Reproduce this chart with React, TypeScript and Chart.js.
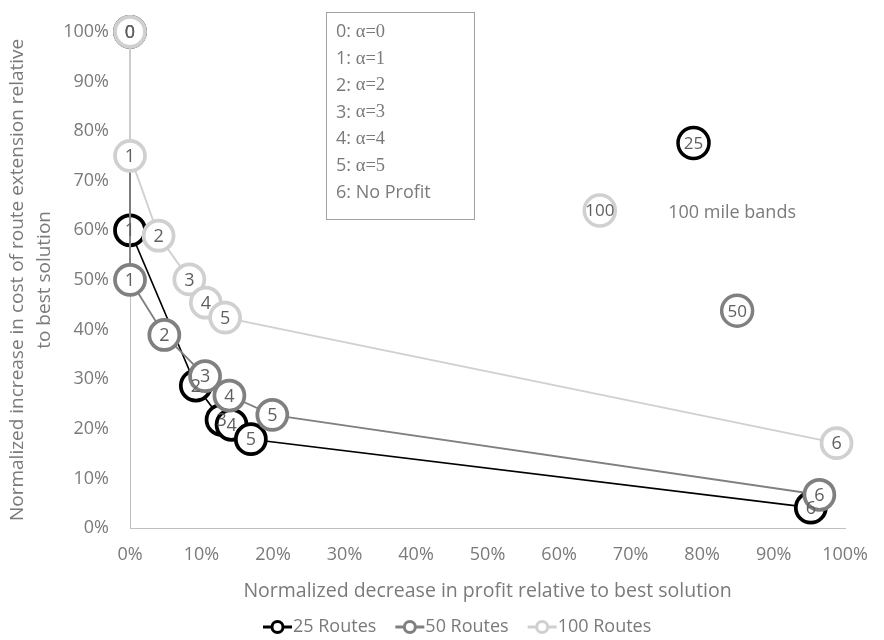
import React, { useEffect, useRef } from "react";
import { Chart, registerables } from "chart.js";

Chart.register(...registerables);

// ---- data ----
const POINT_LABELS = ["0", "1", "2", "3", "4", "5", "6"];
const SERIES_NAMES = ["25 Routes", "50 Routes", "100 Routes"];
const SERIES_COLORS = ["#000000", "#808080", "#d0d0d0"];
const R25_X = [0, 0, 0.092, 0.128, 0.142, 0.169, 0.952];
const R25_Y = [1.0, 0.6, 0.287, 0.218, 0.208, 0.179, 0.041];
const R50_X = [0, 0, 0.048, 0.105, 0.139, 0.199, 0.964];
const R50_Y = [1.0, 0.5, 0.389, 0.306, 0.267, 0.228, 0.067];
const R100_X = [0, 0, 0.04, 0.083, 0.106, 0.133, 0.988];
const R100_Y = [1.0, 0.75, 0.589, 0.501, 0.454, 0.424, 0.171];

const BAND_LABELS = ["25", "50", "100"];
const BAND_X = [0.788, 0.849, 0.657];
const BAND_Y = [0.776, 0.438, 0.64];
const BAND_NOTE = "100 mile bands";
const BAND_NOTE_X = 0.842;
const BAND_NOTE_Y = 0.635;

const KEY_PREFIX = ["0: ", "1: ", "2: ", "3: ", "4: ", "5: ", "6: "];
const KEY_TEXT = ["α=0", "α=1", "α=2", "α=3", "α=4", "α=5", "No Profit"];
const KEY_SERIF = [true, true, true, true, true, true, false];

const X_TITLE = "Normalized decrease in profit relative to best solution";
const Y_TITLE = ["Normalized increase in cost of route extension relative", "to best solution"];
const AXIS_MIN = 0;
const AXIS_MAX = 1;
const AXIS_STEP = 0.1;

const SANS = "'Open Sans', 'Noto Sans', sans-serif";
const SERIF = "'Liberation Serif', 'DejaVu Serif', serif";
const TEXT_COLOR = "#7a7a7a";
const LABEL_COLOR = "#5f5f5f";

const toPts = (xs: number[], ys: number[]) => xs.map((x, i) => ({ x, y: ys[i] }));
const pct = (v: number) => Math.round(v * 100) + "%";

const pointLabelPlugin = {
  id: "pointLabelPlugin",
  afterDatasetsDraw(chart: any) {
    const ctx = chart.ctx;
    chart.data.datasets.forEach((ds: any, i: number) => {
      if (!ds.pointLabels) return;
      const meta = chart.getDatasetMeta(i);
      ctx.save();
      ctx.font = ds.labelFont;
      ctx.fillStyle = LABEL_COLOR;
      ctx.textAlign = "center";
      ctx.textBaseline = "middle";
      meta.data.forEach((el: any, j: number) => {
        ctx.fillText(ds.pointLabels[j], el.x, el.y + 1);
      });
      ctx.restore();
    });
  },
};

const decorPlugin = {
  id: "decorPlugin",
  afterDraw(chart: any) {
    const ctx = chart.ctx;
    const xs = chart.scales.x;
    const ys = chart.scales.y;
    ctx.save();
    // alpha key box
    ctx.strokeStyle = "#a0a0a0";
    ctx.lineWidth = 1;
    ctx.strokeRect(326.5, 12.5, 148, 207);
    ctx.textBaseline = "middle";
    ctx.textAlign = "left";
    ctx.fillStyle = TEXT_COLOR;
    KEY_PREFIX.forEach((p, i) => {
      const y = 32 + i * 26.8;
      ctx.font = `18px ${SANS}`;
      ctx.fillText(p, 336, y);
      const w = ctx.measureText(p).width;
      ctx.font = KEY_SERIF[i] ? `18.5px ${SERIF}` : `18px ${SANS}`;
      ctx.fillText(KEY_TEXT[i], 336 + w, y);
    });
    // band note
    ctx.font = `18px ${SANS}`;
    ctx.textAlign = "center";
    ctx.fillText(BAND_NOTE, xs.getPixelForValue(BAND_NOTE_X), ys.getPixelForValue(BAND_NOTE_Y));
    // series legend
    let x = 263;
    const ly = 627;
    ctx.textAlign = "left";
    chart.data.datasets.forEach((ds: any) => {
      if (!ds.inLegend) return;
      const c = ds.borderColor;
      ctx.strokeStyle = c;
      ctx.lineWidth = 3;
      ctx.beginPath();
      ctx.moveTo(x, ly);
      ctx.lineTo(x + 29, ly);
      ctx.stroke();
      ctx.beginPath();
      ctx.arc(x + 14.5, ly, 5.5, 0, Math.PI * 2);
      ctx.fillStyle = "#ffffff";
      ctx.fill();
      ctx.stroke();
      ctx.fillStyle = TEXT_COLOR;
      ctx.font = `18px ${SANS}`;
      ctx.fillText(ds.label, x + 30, ly);
      x += 30 + ctx.measureText(ds.label).width + 19;
    });
    ctx.restore();
  },
};

function seriesDataset(i: number, xs: number[], ys: number[], order: number, lineW: number) {
  return {
    label: SERIES_NAMES[i],
    data: toPts(xs, ys),
    showLine: true,
    borderColor: SERIES_COLORS[i],
    borderWidth: lineW,
    tension: 0,
    pointRadius: 15,
    pointHoverRadius: 15,
    pointBorderWidth: 3.75,
    pointBorderColor: SERIES_COLORS[i],
    pointBackgroundColor: "#ffffff",
    clip: false,
    order,
    pointLabels: POINT_LABELS,
    labelFont: `18px ${SANS}`,
    inLegend: true,
  };
}

function bandDataset(i: number, colorIdx: number) {
  return {
    label: "band " + BAND_LABELS[i],
    data: [{ x: BAND_X[i], y: BAND_Y[i] }],
    showLine: false,
    borderColor: SERIES_COLORS[colorIdx],
    pointRadius: 15.5,
    pointHoverRadius: 15.5,
    pointBorderWidth: 3.5,
    pointBorderColor: SERIES_COLORS[colorIdx],
    pointBackgroundColor: "#ffffff",
    clip: false,
    order: 0,
    pointLabels: [BAND_LABELS[i]],
    labelFont: `17px ${SANS}`,
    inLegend: false,
  };
}

export default function App() {
  const ref = useRef<HTMLCanvasElement | null>(null);
  useEffect(() => {
    let chart: Chart | null = null;
    let cancelled = false;
    const make = () => {
      if (cancelled || !ref.current) return;
      chart = new Chart(ref.current, {
        type: "scatter",
        data: {
          datasets: [
            seriesDataset(0, R25_X, R25_Y, 3, 1.6),
            seriesDataset(1, R50_X, R50_Y, 2, 1.9),
            seriesDataset(2, R100_X, R100_Y, 1, 1.9),
            bandDataset(0, 0),
            bandDataset(1, 1),
            bandDataset(2, 2),
          ] as any,
        },
        options: {
          responsive: false,
          animation: false,
          devicePixelRatio: 1,
          layout: { padding: { top: 18, left: 0, right: 27, bottom: 0 } },
          plugins: {
            legend: { display: false },
            tooltip: { enabled: false },
          },
          scales: {
            x: {
              type: "linear",
              min: AXIS_MIN,
              max: AXIS_MAX,
              grid: { display: false, drawTicks: false },
              border: { display: true, color: "#bfbfbf", width: 1 },
              ticks: {
                stepSize: AXIS_STEP,
                padding: 16,
                color: TEXT_COLOR,
                font: { family: SANS, size: 18 },
                callback: (v: any) => pct(Number(v)),
              },
              title: {
                display: true,
                text: X_TITLE,
                color: TEXT_COLOR,
                font: { family: SANS, size: 19.5, lineHeight: 1.2 },
                padding: { top: 0, bottom: 37 },
              },
              afterFit: (s: any) => {
                s.height = 112;
              },
            },
            y: {
              type: "linear",
              min: AXIS_MIN,
              max: AXIS_MAX,
              grid: { display: false, drawTicks: false },
              border: { display: true, color: "#bfbfbf", width: 1 },
              ticks: {
                stepSize: AXIS_STEP,
                padding: 21,
                color: TEXT_COLOR,
                font: { family: SANS, size: 18 },
                callback: (v: any) => pct(Number(v)),
              },
              title: {
                display: true,
                text: Y_TITLE,
                color: TEXT_COLOR,
                font: { family: SANS, size: 19, lineHeight: 1.42 },
                padding: { top: 4.5, bottom: 0 },
              },
              afterFit: (s: any) => {
                s.width = 130;
              },
            },
          },
        },
        plugins: [pointLabelPlugin, decorPlugin],
      });
    };
    const fonts = (document as any).fonts;
    if (fonts && fonts.load) {
      Promise.all([fonts.load(`18px "Open Sans"`), fonts.load(`18px "Liberation Serif"`)]).then(make, make);
    } else {
      make();
    }
    return () => {
      cancelled = true;
      if (chart) chart.destroy();
    };
  }, []);
  return (
    <div style={{ position: "absolute", left: 0, top: 0, width: 884, height: 640, background: "#fff" }}>
      <canvas ref={ref} width={884} height={640} style={{ display: "block" }} />
    </div>
  );
}
